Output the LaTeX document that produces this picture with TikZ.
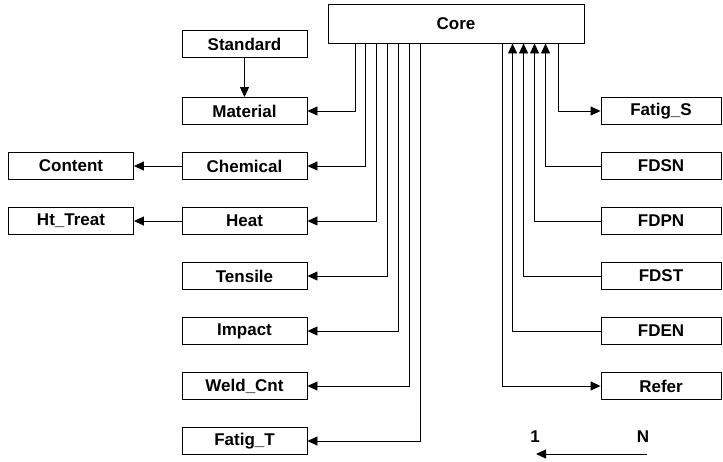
\documentclass[tikz,border=0pt]{standalone}
\usepackage{fontspec}
\setmainfont{Liberation Sans}
\usetikzlibrary{arrows.meta, calc, positioning}

\begin{document}
\begin{tikzpicture}[
    x=1pt, y=-1pt,
    table/.style={draw, line width=0.9pt, minimum width=125pt, minimum height=27pt,
        inner sep=0pt, font=\fontsize{17}{19}\selectfont\bfseries},
    conn/.style={line width=0.9pt},
    tip/.style={conn, -{Triangle[length=10pt, width=9pt]}},
]
\useasboundingbox (0, 0) rectangle (723, 461);

% =============================================================================
% Tables
% =============================================================================
\node[table, minimum width=256pt, minimum height=39pt] (core) at (456, 23.5) {Core};

% Left column
\node[table] (standard) at (244.5, 44)  {Standard};
\node[table] (material) at (244.5, 111) {Material};
\node[table] (chemical) at (244.5, 166) {Chemical};
\node[table] (heat)     at (244.5, 221) {Heat};
\node[table] (tensile)  at (244.5, 276) {Tensile};
\node[table] (impact)   at (244.5, 331) {Impact};
\node[table] (weldcnt)  at (244.5, 386) {Weld\_Cnt};
\node[table] (fatigt)   at (244.5, 441) {Fatig\_T};

% Far left column
\node[table] (content)  at (71, 166) {Content};
\node[table] (httreat)  at (71, 221) {Ht\_Treat};

% Right column
\node[table, minimum width=120pt] (fatigs) at (661, 111) {Fatig\_S};
\node[table, minimum width=120pt] (fdsn)   at (661, 166) {FDSN};
\node[table, minimum width=120pt] (fdpn)   at (661, 221) {FDPN};
\node[table, minimum width=120pt] (fdst)   at (661, 276) {FDST};
\node[table, minimum width=120pt] (fden)   at (661, 331) {FDEN};
\node[table, minimum width=120pt] (refer)  at (661, 386) {Refer};

% =============================================================================
% Links on the left
% =============================================================================
\draw[tip] (standard.south) -- (material.north);
\draw[tip] (chemical.west) -- (content.east);
\draw[tip] (heat.west) -- (httreat.east);

\draw[tip] ([xshift=28pt]core.south west) |- (material.east);
\draw[tip] ([xshift=38pt]core.south west) |- (chemical.east);
\draw[tip] ([xshift=49pt]core.south west) |- (heat.east);
\draw[tip] ([xshift=60pt]core.south west) |- (tensile.east);
\draw[tip] ([xshift=71pt]core.south west) |- (impact.east);
\draw[tip] ([xshift=82pt]core.south west) |- (weldcnt.east);
\draw[tip] ([xshift=93pt]core.south west) |- (fatigt.east);

% =============================================================================
% Links on the right
% =============================================================================
\draw[tip] ([xshift=231pt]core.south west) |- (fatigs.west);
\draw[tip] (fdsn.west) -| ([xshift=218pt]core.south west);
\draw[tip] (fdpn.west) -| ([xshift=207pt]core.south west);
\draw[tip] (fdst.west) -| ([xshift=196pt]core.south west);
\draw[tip] (fden.west) -| ([xshift=185pt]core.south west);
\draw[tip] ([xshift=175pt]core.south west) |- (refer.west);

% Legend
\node[font=\fontsize{17}{19}\selectfont\bfseries] (one) at (535, 437) {1};
\node[font=\fontsize{17}{19}\selectfont\bfseries] (en)  at (643, 437) {N};
\coordinate (tail) at (647, 454);
\coordinate (head) at (536, 454);
\draw[tip] (tail) -- (head);

\end{tikzpicture}
\end{document}
